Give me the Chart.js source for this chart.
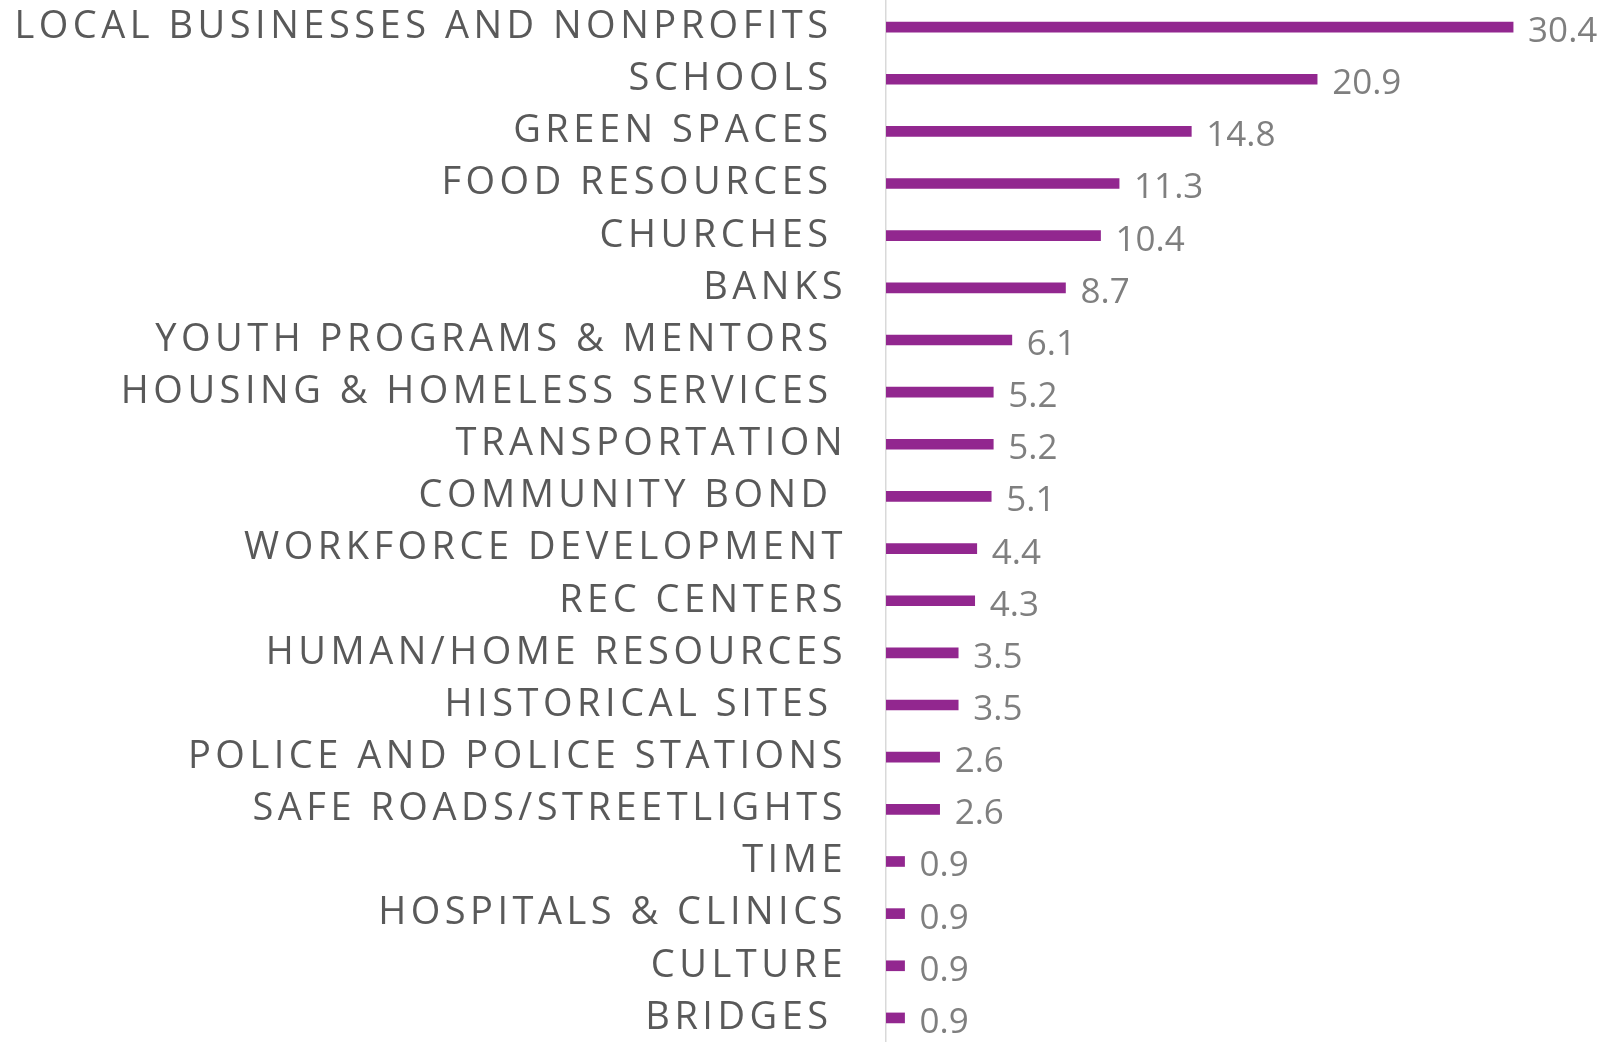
<!DOCTYPE html>
<html>
<head>
<meta charset="utf-8">
<script src="https://cdn.jsdelivr.net/npm/chart.js@4.4.1/dist/chart.umd.min.js"></script>
<style>
html,body{margin:0;padding:0;background:#fff;overflow:hidden;}
#wrap{width:1609px;height:1042px;position:relative;overflow:hidden;}
</style>
</head>
<body>
<div id="wrap"><canvas id="c" width="1609" height="1044"></canvas></div>
<script>
const categories = [
  "LOCAL BUSINESSES AND NONPROFITS ",
  "SCHOOLS ",
  "GREEN SPACES ",
  "FOOD RESOURCES ",
  "CHURCHES ",
  "BANKS",
  "YOUTH PROGRAMS & MENTORS ",
  "HOUSING & HOMELESS SERVICES ",
  "TRANSPORTATION",
  "COMMUNITY BOND ",
  "WORKFORCE DEVELOPMENT",
  "REC CENTERS",
  "HUMAN/HOME RESOURCES",
  "HISTORICAL SITES ",
  "POLICE AND POLICE STATIONS",
  "SAFE ROADS/STREETLIGHTS",
  "TIME",
  "HOSPITALS & CLINICS",
  "CULTURE",
  "BRIDGES "
];
const values = [30.4, 20.9, 14.8, 11.3, 10.4, 8.7, 6.1, 5.2, 5.2, 5.1, 4.4, 4.3, 3.5, 3.5, 2.6, 2.6, 0.9, 0.9, 0.9, 0.9];

const LABEL_SPACING = '4.5px';

const spacingPlugin = {
  id: 'spacing',
  beforeUpdate(chart){ chart.ctx.letterSpacing = LABEL_SPACING; },
  beforeDraw(chart){ chart.ctx.letterSpacing = LABEL_SPACING; },
  afterDatasetsDraw(chart){
    const ctx = chart.ctx;
    ctx.save();
    ctx.letterSpacing = '0px';
    ctx.font = '35px "Open Sans", sans-serif';
    ctx.fillStyle = '#7f7f7f';
    ctx.textAlign = 'left';
    ctx.textBaseline = 'middle';
    const meta = chart.getDatasetMeta(0);
    meta.data.forEach((bar, i) => {
      ctx.fillText(values[i].toFixed(1), bar.x + 15, bar.y + 5);
    });
    ctx.restore();
  }
};

new Chart(document.getElementById('c'), {
  type: 'bar',
  data: {
    labels: categories,
    datasets: [{
      data: values,
      backgroundColor: '#92278F',
      barThickness: 10,
      borderWidth: 0
    }]
  },
  options: {
    indexAxis: 'y',
    responsive: false,
    animation: false,
    layout: { padding: { top: 1, bottom: 0, left: 0, right: 1 } },
    plugins: { legend: { display: false }, tooltip: { enabled: false } },
    scales: {
      x: {
        display: false,
        min: 0,
        max: 35
      },
      y: {
        afterFit(scale){
          scale.width = 886;
          scale.paddingTop = 0;
          scale.paddingBottom = 0;
        },
        grid: { display: false, drawTicks: false },
        border: { display: true, color: '#d9d9d9', width: 1.5 },
        ticks: {
          autoSkip: false,
          padding: 39,
          color: '#595959',
          font: { family: '"Open Sans", sans-serif', size: 38 }
        }
      }
    }
  },
  plugins: [spacingPlugin]
});
</script>
</body>
</html>
